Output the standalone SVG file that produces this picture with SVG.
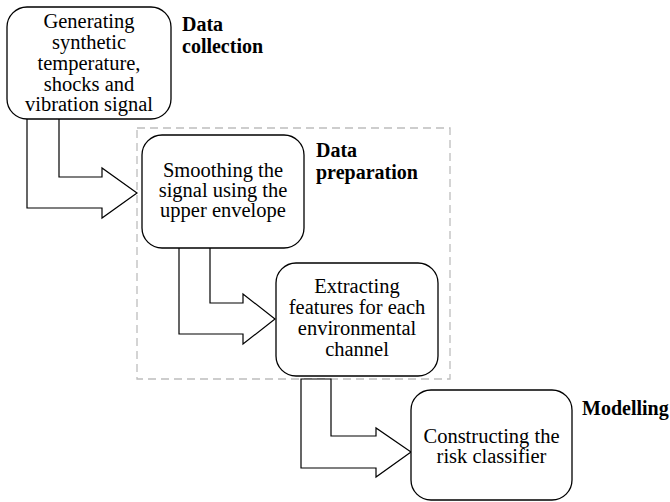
<svg xmlns="http://www.w3.org/2000/svg" width="670" height="502" viewBox="0 0 670 502">
<style>
.box{fill:#fff;stroke:#000;stroke-width:1.3}
.arr{fill:#fff;stroke:#000;stroke-width:1.2;stroke-linejoin:miter}
.grp{fill:none;stroke:#bdbdbd;stroke-width:1.3;stroke-dasharray:8 5}
</style>
<rect width="670" height="502" fill="#fff"/>
<rect class="grp" x="137" y="128" width="313" height="251"/>
<g id="connectors">
<polygon class="arr" points="27,118 59,118 59,177 102,177 102,168 137,193 102,218 102,208 27,208"/>
<polygon class="arr" points="179,246 210,246 210,303 243,303 243,294 275,319 243,344 243,334 179,334"/>
<polygon class="arr" points="301,379 331,379 331,436 376,436 376,428 411,452 376,477 376,468 301,468"/>
</g>
<g font-family="Liberation Serif, Times New Roman, serif" font-size="20.5" text-anchor="middle" fill="#000">
<g id="n1">
<rect class="box" x="7" y="7" width="164" height="112" rx="20"/>
<text x="89" y="28">Generating</text>
<text x="89" y="49">synthetic</text>
<text x="89" y="70">temperature,</text>
<text x="89" y="91">shocks and</text>
<text x="89" y="111">vibration signal</text>
</g>
<g id="n2">
<rect class="box" x="142" y="135" width="162" height="113" rx="20"/>
<text x="223" y="177">Smoothing the</text>
<text x="223" y="197">signal using the</text>
<text x="223" y="217">upper envelope</text>
</g>
<g id="n3">
<rect class="box" x="276" y="263" width="162" height="113" rx="20"/>
<text x="357" y="293">Extracting</text>
<text x="357" y="314">features for each</text>
<text x="357" y="335">environmental</text>
<text x="357" y="356">channel</text>
</g>
<g id="n4">
<rect class="box" x="411" y="390" width="161" height="110" rx="20"/>
<text x="491.5" y="443">Constructing the</text>
<text x="491.5" y="463">risk classifier</text>
</g>
</g>
<g id="labels" font-family="Liberation Serif, Times New Roman, serif" font-size="20" font-weight="bold" fill="#000">
<text x="182" y="31">Data</text>
<text x="182" y="53">collection</text>
<text x="316" y="157">Data</text>
<text x="316" y="179">preparation</text>
<text x="582" y="415">Modelling</text>
</g>
</svg>
